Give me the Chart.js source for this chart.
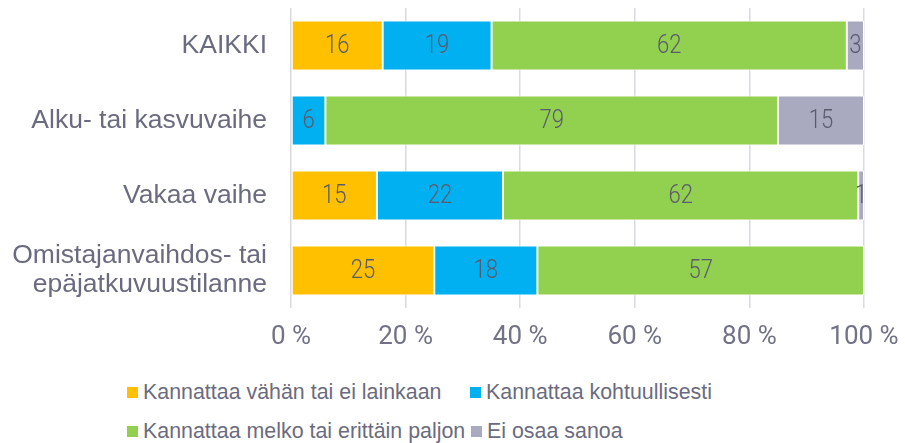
<!DOCTYPE html>
<html>
<head>
<meta charset="utf-8">
<script src="https://cdn.jsdelivr.net/npm/chart.js@4"></script>
<style>
  html,body{margin:0;padding:0;background:#fff;}
  #wrap{position:relative;width:905px;height:443px;}
  #chartBox{position:absolute;left:0;top:0;width:905px;height:362px;}
  .lg{position:absolute;font-family:"Liberation Sans",Arial,sans-serif;font-size:21.4px;color:#6b6b80;white-space:nowrap;line-height:22px;}
  .lg i{display:inline-block;width:11px;height:11px;margin-right:5px;vertical-align:1px;}
</style>
</head>
<body>
<div id="wrap">
  <div id="chartBox"><canvas id="c"></canvas></div>
  <div id="legend"></div>
</div>
<script>
const categories = ["KAIKKI", "Alku- tai kasvuvaihe", "Vakaa vaihe", ["Omistajanvaihdos- tai", "epäjatkuvuustilanne"]];
const seriesNames = ["Kannattaa vähän tai ei lainkaan", "Kannattaa kohtuullisesti", "Kannattaa melko tai erittäin paljon", "Ei osaa sanoa"];
const vahan = [16, 0, 15, 25];
const kohtuullisesti = [19, 6, 22, 18];
const paljon = [62, 79, 62, 57];
const eiOsaa = [3, 15, 1, 0];
const tickLabels = ["0 %", "20 %", "40 %", "60 %", "80 %", "100 %"];
const colors = ["#FFC000", "#00B0F0", "#92D050", "#A9A9BF"];

const seriesData = [vahan, kohtuullisesti, paljon, eiOsaa];

// value labels in the middle of each segment (narrow font look)
const valueLabels = {
  id: "valueLabels",
  afterDatasetsDraw(chart){
    const ctx = chart.ctx;
    chart.data.datasets.forEach((ds, i) => {
      chart.getDatasetMeta(i).data.forEach((el, j) => {
        const v = ds.data[j];
        if(!v) return;
        ctx.save();
        ctx.font = "300 26px Roboto";
        ctx.fillStyle = "#5b5b6e";
        ctx.textAlign = "center";
        ctx.textBaseline = "middle";
        ctx.translate((el.x + el.base) / 2, el.y + 1);
        ctx.scale(0.85, 1);
        ctx.fillText(String(v), 0, 0);
        ctx.restore();
      });
    });
  }
};

new Chart(document.getElementById("c"), {
  type: "bar",
  data: {
    labels: categories,
    datasets: seriesNames.map((n, i) => ({
      label: n,
      data: seriesData[i],
      backgroundColor: colors[i],
      borderColor: "#ffffff",
      borderWidth: 1,
      borderSkipped: false,
      barPercentage: 0.667,
      categoryPercentage: 1
    }))
  },
  options: {
    indexAxis: "y",
    responsive: true,
    maintainAspectRatio: false,
    animation: false,
    layout: {padding: {top: 8, right: 41, left: 0, bottom: 0}},
    plugins: {legend: {display: false}, tooltip: {enabled: false}},
    scales: {
      x: {
        stacked: true, min: 0, max: 100,
        ticks: {stepSize: 20, padding: 14, color: "#727287", font: {family: "Roboto", size: 26, weight: 400},
          callback: (v, i) => tickLabels[i]},
        grid: {color: "#d9d9e2", lineWidth: 1.5, drawTicks: false},
        border: {display: false},
        afterFit: s => { s.height = 54; s.paddingLeft = 0; s.paddingRight = 0; }
      },
      y: {
        stacked: true,
        ticks: {padding: 24, color: "#6b6b80", font: {family: "Liberation Sans", size: 26.5, lineHeight: 1.1}},
        grid: {display: false, drawTicks: false},
        border: {display: false},
        afterFit: s => { s.width = 291; s.paddingTop = 0; s.paddingBottom = 0; }
      }
    }
  },
  plugins: [valueLabels]
});

// legend (Excel-style two rows)
const legendPos = [[127, 381], [470, 381], [127, 419.5], [471, 419.5]];
const lg = document.getElementById("legend");
seriesNames.forEach((n, i) => {
  const d = document.createElement("div");
  d.className = "lg";
  d.style.left = legendPos[i][0] + "px";
  d.style.top = legendPos[i][1] + "px";
  d.innerHTML = '<i style="background:' + colors[i] + '"></i>' + n;
  lg.appendChild(d);
});
</script>
</body>
</html>
